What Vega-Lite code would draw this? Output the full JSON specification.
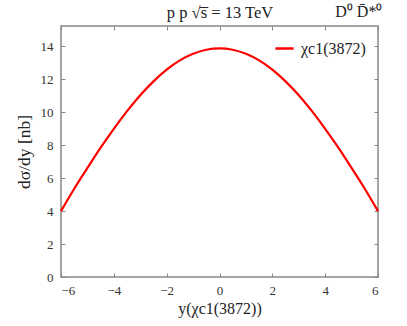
{
  "$schema": "https://vega.github.io/schema/vega-lite/v6.json",
  "width": 317,
  "height": 251,
  "autosize": {"type": "none"},
  "padding": {"left": 61, "top": 26, "right": 29, "bottom": 49},
  "background": "white",
  "config": {
    "view": {"stroke": "#888", "strokeWidth": 1.5},
    "font": "Liberation Serif",
    "axis": {
      "domain": false,
      "grid": false,
      "tickColor": "#888",
      "tickSize": -4,
      "tickWidth": 1,
      "labelFont": "Liberation Serif",
      "labelFontSize": 13,
      "labelColor": "#333",
      "titleFont": "Liberation Serif",
      "titleFontSize": 16,
      "titleFontWeight": "normal",
      "titleColor": "#222"
    },
    "legend": {
      "labelFont": "Liberation Serif"
    }
  },
  "title": {
    "text": "D⁰ D̄*⁰",
    "anchor": "end",
    "fontSize": 16,
    "fontWeight": "normal",
    "font": "Liberation Serif",
    "color": "#222",
    "offset": -15
  },
  "data": {
    "values": [
      {"y": -6.0, "dsdy": 4.00, "series": "χc1(3872)"},
      {"y": -5.5, "dsdy": 5.36, "series": "χc1(3872)"},
      {"y": -5.0, "dsdy": 6.62, "series": "χc1(3872)"},
      {"y": -4.5, "dsdy": 7.85, "series": "χc1(3872)"},
      {"y": -4.0, "dsdy": 9.00, "series": "χc1(3872)"},
      {"y": -3.5, "dsdy": 10.07, "series": "χc1(3872)"},
      {"y": -3.0, "dsdy": 11.04, "series": "χc1(3872)"},
      {"y": -2.5, "dsdy": 11.88, "series": "χc1(3872)"},
      {"y": -2.0, "dsdy": 12.59, "series": "χc1(3872)"},
      {"y": -1.5, "dsdy": 13.15, "series": "χc1(3872)"},
      {"y": -1.0, "dsdy": 13.55, "series": "χc1(3872)"},
      {"y": -0.5, "dsdy": 13.80, "series": "χc1(3872)"},
      {"y": 0.0, "dsdy": 13.88, "series": "χc1(3872)"},
      {"y": 0.5, "dsdy": 13.80, "series": "χc1(3872)"},
      {"y": 1.0, "dsdy": 13.55, "series": "χc1(3872)"},
      {"y": 1.5, "dsdy": 13.15, "series": "χc1(3872)"},
      {"y": 2.0, "dsdy": 12.59, "series": "χc1(3872)"},
      {"y": 2.5, "dsdy": 11.88, "series": "χc1(3872)"},
      {"y": 3.0, "dsdy": 11.04, "series": "χc1(3872)"},
      {"y": 3.5, "dsdy": 10.07, "series": "χc1(3872)"},
      {"y": 4.0, "dsdy": 9.00, "series": "χc1(3872)"},
      {"y": 4.5, "dsdy": 7.85, "series": "χc1(3872)"},
      {"y": 5.0, "dsdy": 6.62, "series": "χc1(3872)"},
      {"y": 5.5, "dsdy": 5.36, "series": "χc1(3872)"},
      {"y": 6.0, "dsdy": 4.00, "series": "χc1(3872)"}
    ]
  },
  "layer": [
    {
      "mark": {"type": "line", "strokeWidth": 2.2, "interpolate": "monotone"},
      "encoding": {
        "x": {
          "field": "y", "type": "quantitative",
          "scale": {"domain": [-6, 6], "nice": false, "zero": false},
          "axis": {"orient": "bottom", "title": "y(χc1(3872))", "values": [-6, -4, -2, 0, 2, 4, 6], "labelPadding": 11, "titlePadding": 3}
        },
        "y": {
          "field": "dsdy", "type": "quantitative",
          "scale": {"domain": [0, 15.24], "nice": false},
          "axis": {"orient": "left", "title": "dσ/dy [nb]", "values": [0, 2, 4, 6, 8, 10, 12, 14], "labelPadding": 12, "titlePadding": 7, "titleFontSize": 17.5}
        },
        "color": {
          "field": "series", "type": "nominal",
          "scale": {"range": ["#ff0000"]},
          "legend": {
            "title": null,
            "orient": "top-right",
            "offset": 12,
            "symbolType": "stroke",
            "symbolStrokeWidth": 2.5,
            "symbolSize": 330,
            "labelFont": "Liberation Serif",
            "labelFontSize": 16,
            "labelColor": "#222",
            "labelOffset": 6
          }
        }
      }
    },
    {
      "mark": {"type": "line", "opacity": 0},
      "encoding": {
        "x": {
          "field": "y", "type": "quantitative",
          "axis": {"orient": "top", "labels": false, "title": "p p √s̅ = 13 TeV", "titlePadding": 5, "titleFontSize": 16.5, "values": [-6, -4, -2, 0, 2, 4, 6]}
        },
        "y": {
          "field": "dsdy", "type": "quantitative",
          "axis": {"orient": "right", "labels": false, "title": null, "values": [0, 2, 4, 6, 8, 10, 12, 14]}
        }
      }
    }
  ],
  "resolve": {"axis": {"x": "independent", "y": "independent"}}
}
